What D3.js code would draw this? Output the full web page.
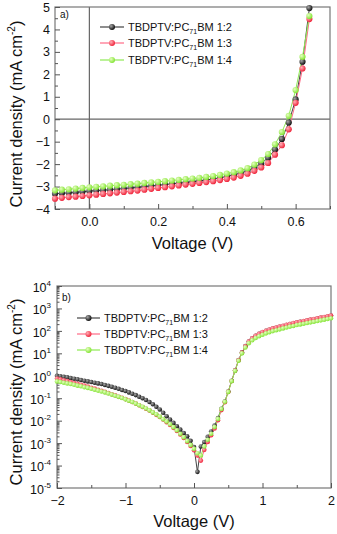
<!DOCTYPE html>
<html><head><meta charset="utf-8">
<script src="https://cdn.jsdelivr.net/npm/d3@7"></script>
<style>
body{margin:0;background:#fff}
svg{display:block}
text{font-family:Arial,"Liberation Sans",sans-serif;fill:#111}
</style>
</head><body>
<svg id="c" width="337" height="534"></svg>
<script>
// ---------- DATA ----------
const seriesNames = ["1:2", "1:3", "1:4"];
const seriesColors = ["#111111", "#f0263c", "#84e436"];
const lineColors = ["#444444", "#ff6a86", "#8eea52"];

// (a) J–V under illumination
const jvVoltage = [-0.10,-0.08,-0.06,-0.04,-0.02,0.00,0.02,0.04,0.06,0.08,0.10,0.12,0.14,0.16,0.18,0.20,0.22,0.24,0.26,0.28,0.30,0.32,0.34,0.36,0.38,0.40,0.42,0.44,0.46,0.48,0.50,0.52,0.54,0.56,0.58,0.60,0.62,0.64];
const jv12 = [-3.32,-3.30,-3.28,-3.26,-3.23,-3.20,-3.18,-3.16,-3.14,-3.11,-3.09,-3.06,-3.03,-3.00,-2.97,-2.94,-2.91,-2.88,-2.85,-2.82,-2.78,-2.75,-2.71,-2.66,-2.61,-2.55,-2.48,-2.40,-2.30,-2.16,-1.97,-1.72,-1.35,-0.88,-0.15,0.88,2.56,4.95];
const jv13 = [-3.54,-3.50,-3.47,-3.45,-3.42,-3.39,-3.36,-3.33,-3.30,-3.27,-3.24,-3.21,-3.18,-3.14,-3.10,-3.06,-3.03,-2.99,-2.95,-2.91,-2.88,-2.84,-2.80,-2.76,-2.71,-2.66,-2.60,-2.52,-2.43,-2.30,-2.15,-1.95,-1.58,-1.16,-0.45,0.73,2.26,4.46];
const jv14 = [-3.17,-3.14,-3.12,-3.09,-3.06,-3.03,-3.01,-2.99,-2.96,-2.94,-2.92,-2.89,-2.87,-2.84,-2.81,-2.79,-2.76,-2.73,-2.70,-2.67,-2.64,-2.61,-2.57,-2.53,-2.48,-2.42,-2.36,-2.28,-2.18,-2.02,-1.82,-1.55,-1.12,-0.57,0.15,1.30,2.78,4.60];

// (b) dark J–V (absolute current density)
const darkVoltage = [-2.00,-1.95,-1.90,-1.85,-1.80,-1.75,-1.70,-1.65,-1.60,-1.55,-1.50,-1.45,-1.40,-1.35,-1.30,-1.25,-1.20,-1.15,-1.10,-1.05,-1.00,-0.95,-0.90,-0.85,-0.80,-0.75,-0.70,-0.65,-0.60,-0.55,-0.50,-0.45,-0.40,-0.35,-0.30,-0.25,-0.20,-0.15,-0.10,-0.05,0.00,0.05,0.10,0.15,0.20,0.25,0.30,0.35,0.40,0.45,0.50,0.55,0.60,0.65,0.70,0.75,0.80,0.85,0.90,0.95,1.00,1.05,1.10,1.15,1.20,1.25,1.30,1.35,1.40,1.45,1.50,1.55,1.60,1.65,1.70,1.75,1.80,1.85,1.90,1.95,2.00];
const dark12 = [1.00,9.55e-1,8.91e-1,8.51e-1,7.94e-1,7.41e-1,6.92e-1,6.46e-1,6.03e-1,5.62e-1,5.25e-1,4.90e-1,4.57e-1,4.27e-1,3.89e-1,3.55e-1,3.24e-1,2.95e-1,2.63e-1,2.34e-1,2.09e-1,1.82e-1,1.58e-1,1.38e-1,1.17e-1,1.00e-1,8.32e-2,6.76e-2,5.37e-2,4.17e-2,3.16e-2,2.24e-2,1.58e-2,1.12e-2,7.94e-3,5.62e-3,3.98e-3,2.82e-3,2.00e-3,1.26e-3,6.76e-4,5.25e-5,7.08e-4,1.12e-3,1.91e-3,3.31e-3,6.03e-3,1.32e-2,3.39e-2,7.08e-2,2.00e-1,6.03e-1,1.74,5.01,11.0,20.9,33.9,46.8,60.3,74.1,87.1,100,112,126,138,151,166,182,200,219,234,251,269,288,309,331,355,380,407,437,468];
const dark13 = [7.59e-1,6.92e-1,6.31e-1,5.75e-1,5.25e-1,4.79e-1,4.37e-1,3.98e-1,3.63e-1,3.31e-1,2.95e-1,2.69e-1,2.40e-1,2.14e-1,1.91e-1,1.70e-1,1.51e-1,1.35e-1,1.17e-1,1.05e-1,9.12e-2,7.94e-2,6.76e-2,5.75e-2,4.90e-2,4.07e-2,3.39e-2,2.82e-2,2.29e-2,1.82e-2,1.45e-2,1.12e-2,8.51e-3,6.46e-3,4.79e-3,3.47e-3,2.45e-3,1.70e-3,1.12e-3,7.41e-4,4.79e-4,2.82e-4,1.66e-4,5.01e-4,1.12e-3,2.24e-3,4.47e-3,1.05e-2,2.95e-2,6.61e-2,1.91e-1,5.89e-1,1.70,4.90,10.7,20.4,33.1,46.8,60.3,74.1,89.1,102,115,129,141,155,170,186,204,224,240,257,275,295,316,339,363,389,417,447,479];
const dark14 = [5.62e-1,5.25e-1,4.90e-1,4.57e-1,4.27e-1,3.98e-1,3.63e-1,3.39e-1,3.09e-1,2.88e-1,2.63e-1,2.40e-1,2.19e-1,2.00e-1,1.82e-1,1.62e-1,1.45e-1,1.29e-1,1.15e-1,1.02e-1,8.91e-2,7.76e-2,6.76e-2,5.75e-2,4.90e-2,4.17e-2,3.47e-2,2.88e-2,2.34e-2,1.91e-2,1.51e-2,1.17e-2,9.12e-3,6.92e-3,5.13e-3,3.72e-3,2.63e-3,1.82e-3,1.23e-3,8.32e-4,5.62e-4,3.55e-4,2.82e-4,7.08e-4,1.41e-3,2.63e-3,5.25e-3,1.20e-2,3.31e-2,6.92e-2,1.91e-1,5.75e-1,1.66,4.68,10.0,18.2,28.2,38.0,47.9,57.5,67.6,77.6,87.1,97.7,107,117,129,141,155,166,182,195,209,224,240,257,275,295,316,339,363];

const topXTicks = [0.0, 0.2, 0.4, 0.6];
const topXMinor = [-0.1, 0.1, 0.3, 0.5, 0.7];
const topYTicks = [-4, -3, -2, -1, 0, 1, 2, 3, 4, 5];
const topYMinor = [-3.5, -2.5, -1.5, -0.5, 0.5, 1.5, 2.5, 3.5, 4.5];
const botXTicks = [-2, -1, 0, 1, 2];
const botXMinor = [-1.5, -0.5, 0.5, 1.5];
const botYExp = [-5, -4, -3, -2, -1, 0, 1, 2, 3, 4];

// ---------- DRAW ----------
const svg = d3.select("#c");
const defs = svg.append("defs");
const hi = ["#a8a8a8", "#ffb0b8", "#e6ffc0"];
seriesColors.forEach((c, i) => {
  const g = defs.append("radialGradient").attr("id", "g" + i)
    .attr("cx", "35%").attr("cy", "35%").attr("r", "65%");
  g.append("stop").attr("offset", "0%").attr("stop-color", hi[i]);
  g.append("stop").attr("offset", "100%").attr("stop-color", c);
});

function frame(x0, x1, y0, y1) {
  svg.append("rect").attr("x", x0).attr("y", y0).attr("width", x1 - x0).attr("height", y1 - y0)
    .attr("fill", "none").attr("stroke", "#777").attr("stroke-width", 1.2);
}
function styleAxis(g) {
  g.select(".domain").remove();
  g.selectAll(".tick line").attr("stroke", "#555");
  g.selectAll(".tick text").attr("fill", "#111").style("font-family", "Arial, 'Liberation Sans', sans-serif");
}
function legend(x, ys, lx0, lx1, r, labelLetter, lpos) {
  svg.append("text").attr("x", lpos[0]).attr("y", lpos[1]).attr("font-size", 10).text(labelLetter);
  seriesNames.forEach((n, i) => {
    const y = ys[i];
    svg.append("line").attr("x1", lx0).attr("x2", lx1).attr("y1", y).attr("y2", y)
      .attr("stroke", lineColors[i]).attr("stroke-width", 1.2);
    svg.append("circle").attr("cx", (lx0 + lx1) / 2).attr("cy", y).attr("r", r).attr("fill", "url(#g" + i + ")");
    const t = svg.append("text").attr("x", x).attr("y", y + 4).attr("font-size", 11);
    t.append("tspan").text("TBDPTV:PC");
    t.append("tspan").attr("font-size", 7).attr("dy", 3).text("71");
    t.append("tspan").attr("dy", -3).text("BM " + n);
  });
}
function yTitle(cx, cy) {
  const t = svg.append("text").attr("transform", `translate(${cx},${cy}) rotate(-90)`)
    .attr("text-anchor", "middle").attr("font-size", 16.5);
  t.append("tspan").text("Current density (mA cm");
  t.append("tspan").attr("font-size", 10).attr("dy", -7).text("-2");
  t.append("tspan").attr("dy", 7).text(")");
}

// ---- panel a ----
{
  const L = 55, R = 330, T = 7, B = 209;
  const x = d3.scaleLinear([-0.1, 0.7], [L, R]);
  const y = d3.scaleLinear([-4, 5], [B, T]);
  svg.append("line").attr("x1", x(0)).attr("x2", x(0)).attr("y1", T).attr("y2", B).attr("stroke", "#666").attr("stroke-width", 1.2);
  svg.append("line").attr("x1", L).attr("x2", R).attr("y1", y(0)).attr("y2", y(0)).attr("stroke", "#666").attr("stroke-width", 1.2);
  frame(L, R, T, B);
  const ax = svg.append("g").attr("transform", `translate(0,${B})`)
    .call(d3.axisBottom(x).tickValues(topXTicks).tickSize(-5).tickPadding(8).tickFormat(d3.format(".1f")));
  ax.selectAll("text").attr("font-size", 12.5);
  styleAxis(ax);
  const axm = svg.append("g").attr("transform", `translate(0,${B})`)
    .call(d3.axisBottom(x).tickValues(topXMinor).tickSize(-3).tickFormat(""));
  styleAxis(axm);
  const ay = svg.append("g").attr("transform", `translate(${L},0)`)
    .call(d3.axisLeft(y).tickValues(topYTicks).tickSize(-5).tickPadding(5).tickFormat(d3.format("d")));
  ay.selectAll("text").attr("font-size", 12.5);
  styleAxis(ay);
  const aym = svg.append("g").attr("transform", `translate(${L},0)`)
    .call(d3.axisLeft(y).tickValues(topYMinor).tickSize(-3).tickFormat(""));
  styleAxis(aym);

  const data = [jv12, jv13, jv14];
  const line = d3.line().x(d => x(d[0])).y(d => y(d[1]));
  data.forEach((s, i) => {
    const pts = jvVoltage.map((v, k) => [v, s[k]]);
    svg.append("path").datum(pts).attr("d", line).attr("fill", "none")
      .attr("stroke", lineColors[i]).attr("stroke-width", 1);
  });
  data.forEach((s, i) => {
    const pts = jvVoltage.map((v, k) => [v, s[k]]);
    svg.append("g").selectAll("circle").data(pts).join("circle")
      .attr("cx", d => x(d[0])).attr("cy", d => y(d[1])).attr("r", 3.1)
      .attr("fill", "url(#g" + i + ")");
  });
  legend(128, [27, 43, 60], 100, 124, 3, "a)", [60, 18]);
  svg.append("text").attr("x", (L + R) / 2).attr("y", 249).attr("text-anchor", "middle")
    .attr("font-size", 16.5).text("Voltage (V)");
  yTitle(22, 114);
}

// ---- panel b ----
{
  const L = 57, R = 331, T = 286, B = 488;
  const x = d3.scaleLinear([-2, 2], [L, R]);
  const y = d3.scaleLog([1e-5, 1e4], [B, T]);
  frame(L, R, T, B);
  const ax = svg.append("g").attr("transform", `translate(0,${B})`)
    .call(d3.axisBottom(x).tickValues(botXTicks).tickSize(-5).tickPadding(8).tickFormat(d3.format("d")));
  ax.selectAll("text").attr("font-size", 12.5);
  styleAxis(ax);
  const axm = svg.append("g").attr("transform", `translate(0,${B})`)
    .call(d3.axisBottom(x).tickValues(botXMinor).tickSize(-3).tickFormat(""));
  styleAxis(axm);
  const majors = botYExp.map(e => Math.pow(10, e));
  const minors = y.ticks().filter(v => !majors.some(m => Math.abs(m - v) / m < 1e-6));
  const aym = svg.append("g").attr("transform", `translate(${L},0)`)
    .call(d3.axisLeft(y).tickValues(minors).tickSize(-2.5).tickFormat(""));
  styleAxis(aym);
  const ay = svg.append("g").attr("transform", `translate(${L},0)`)
    .call(d3.axisLeft(y).tickValues(majors).tickSize(-5).tickPadding(6).tickFormat(""));
  styleAxis(ay);
  ay.selectAll(".tick").each(function (d) {
    const e = Math.round(Math.log10(d));
    const t = d3.select(this).append("text").attr("x", -6).attr("dy", "0.42em")
      .attr("text-anchor", "end").attr("font-size", 12.5).attr("fill", "#111");
    t.append("tspan").text("10");
    t.append("tspan").attr("font-size", 8).attr("dy", -6).text(e);
  });

  const data = [dark12, dark13, dark14];
  const line = d3.line().x(d => x(d[0])).y(d => y(d[1]));
  data.forEach((s, i) => {
    const pts = darkVoltage.map((v, k) => [v, s[k]]);
    svg.append("path").datum(pts).attr("d", line).attr("fill", "none")
      .attr("stroke", lineColors[i]).attr("stroke-width", 1);
  });
  data.forEach((s, i) => {
    const pts = darkVoltage.map((v, k) => [v, s[k]]);
    svg.append("g").selectAll("circle").data(pts).join("circle")
      .attr("cx", d => x(d[0])).attr("cy", d => y(d[1])).attr("r", 2.3)
      .attr("fill", "url(#g" + i + ")");
  });
  legend(104, [318, 334, 350], 77, 100, 3, "b)", [62, 301]);
  svg.append("text").attr("x", (L + R) / 2).attr("y", 527).attr("text-anchor", "middle")
    .attr("font-size", 16.5).text("Voltage (V)");
  yTitle(22, 392);
}
</script>
</body></html>
